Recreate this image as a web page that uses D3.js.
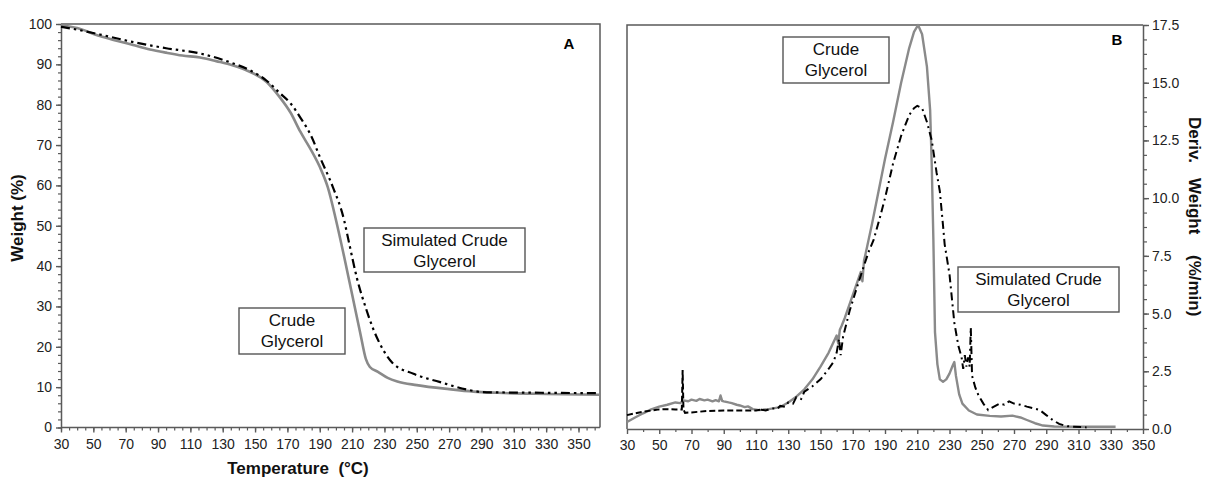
<!DOCTYPE html>
<html><head><meta charset="utf-8">
<script src="https://cdn.jsdelivr.net/npm/d3@7"></script>
<style>
html,body{margin:0;padding:0;background:#fff;}
svg{display:block;font-family:"Liberation Sans",Arial,sans-serif;}
</style></head>
<body>
<svg id="chart" width="1205" height="479"></svg>
<script>
// ---------- Panel A: TGA (Weight %) ----------
const crudeTgaTemp = [30,40,54,65,74.5,85,95,105,116,126,136,146,157,165,172,178,185,190,195,200,205,210,215,218.5,221,226,232,238,250,270,285,300,330,363];
const crudeTgaVal  = [99.7,99.0,97.0,95.8,94.8,93.7,92.9,92.2,91.7,90.8,89.8,88.3,85.7,82.0,78.0,73.3,68.5,64.6,59.5,51.5,42.5,33.0,23.5,17.0,15.0,13.8,12.3,11.4,10.5,9.5,8.9,8.6,8.3,8.1];
const simTgaTemp   = [30,40,54,75,95,116,136,147,157,165,172,178,185,190,198,205,208,213,219,223,227,235,248,264,281,290,300,330,363];
const simTgaVal    = [99.3,98.6,97.4,95.5,94.0,92.7,90.3,88.5,86.0,83.0,80.3,76.8,72.0,67.1,59.7,51.5,46.0,37.0,29.0,24.5,20.9,16.0,13.3,11.3,9.4,8.8,8.7,8.6,8.5];

// ---------- Panel B: DTG (Deriv. Weight %/min) ----------
const crudeDtgTemp = [30,35,40,45,50,55,60,63,65,68,70,73,75,78,80,83,85,87,88,89,90,93,95,98,100,103,105,108,112,118,125,130,135,140,145,150,155,160,161,162,163,165,170,175,176,177,178,182,186,190,195,200,205,208,210.5,213,216,218,219,220,221,222.5,224,226,228,230,232,233,234,236,238,242,247,255,262,269,274,278,283,288,295,310,333];
const crudeDtgVal  = [0.30,0.50,0.68,0.85,0.97,1.05,1.15,1.12,1.24,1.20,1.27,1.22,1.30,1.24,1.27,1.20,1.25,1.20,1.45,1.22,1.20,1.15,1.12,1.05,1.02,0.95,0.98,0.86,0.82,0.86,0.95,1.15,1.40,1.72,2.15,2.70,3.30,4.05,3.70,4.30,4.45,4.80,5.80,6.80,6.40,7.30,7.60,8.90,10.30,11.70,13.30,15.00,16.50,17.20,17.50,17.10,15.70,13.80,11.40,8.20,4.20,2.80,2.15,2.05,2.15,2.40,2.75,2.90,2.30,1.50,1.10,0.80,0.63,0.57,0.54,0.58,0.50,0.39,0.25,0.15,0.11,0.10,0.10];
const simDtgTemp   = [30,35,40,45,50,55,60,64,64.5,65,66,70,80,90,100,110,113,116,120,123,125,128,130,133,135,138,140,145,150,155,158,160,161.5,162.5,164,168,172,176.6,180,183,187,190,195,200,205,208,210,213,216,219,222,224,226,227,230,233,235.5,237.5,238.5,239.5,240.5,241.5,242.5,243.2,244,246,248,251,254,257,261,264,267,270,274,278,282,286,290,294,298,303,307,315];
const simDtgVal    = [0.60,0.68,0.75,0.80,0.85,0.86,0.85,0.85,2.55,0.85,0.70,0.72,0.78,0.80,0.80,0.80,0.84,0.80,0.90,0.86,1.00,0.96,1.15,1.10,1.38,1.30,1.62,1.85,2.15,2.60,2.90,3.30,3.90,3.20,4.00,5.10,6.00,7.00,7.70,8.20,9.20,10.0,11.5,12.7,13.6,13.9,14.0,13.9,13.3,12.5,11.1,10.3,8.80,8.00,6.70,4.60,3.60,3.10,2.60,3.20,2.70,3.10,2.70,4.40,2.30,1.80,1.45,1.10,0.82,0.95,1.10,1.05,1.20,1.10,1.05,0.97,0.90,0.82,0.60,0.39,0.22,0.12,0.10,0.07];

const xTicksA = d3.range(30, 351, 20);
const yTicksA = d3.range(0, 101, 10);
const xTicksB = d3.range(30, 351, 20);
const yTicksB = d3.range(0, 17.6, 2.5);

const svg = d3.select("#chart");
const AX = "#5a5a5a";
const GRAY = "#8a8a8a";

// ================= Panel A =================
const xA = d3.scaleLinear().domain([30, 363.3]).range([61, 600]);
const yA = d3.scaleLinear().domain([0, 100]).range([427.5, 24]);

const gA = svg.append("g");
gA.append("path").attr("d", `M${xA(30)},${yA(100)}H${xA(363.3)}V${yA(0)}`)
  .attr("fill","none").attr("stroke",AX).attr("stroke-width",1.5);

gA.append("g").attr("transform",`translate(0,${yA(0)})`)
  .call(d3.axisBottom(xA).tickValues(d3.range(30,361,5)).tickSize(3).tickFormat(""))
  .call(g=>{g.select(".domain").remove();g.selectAll("line").attr("stroke",AX).attr("stroke-width",1.2);});
gA.append("g").attr("transform",`translate(${xA(30)},0)`)
  .call(d3.axisLeft(yA).tickValues(d3.range(0,101,2)).tickSize(3).tickFormat(""))
  .call(g=>{g.select(".domain").remove();g.selectAll("line").attr("stroke",AX).attr("stroke-width",1.2);});
gA.append("g").attr("transform",`translate(0,${yA(0)})`)
  .call(d3.axisBottom(xA).tickValues(xTicksA).tickSize(5).tickPadding(7).tickSizeOuter(0))
  .call(g=>{g.select(".domain").attr("stroke",AX).attr("stroke-width",1.5).attr("d",`M${xA(30)},0H${xA(363.3)}`);
            g.selectAll("line").attr("stroke",AX).attr("stroke-width",1.4);
            g.selectAll("text").attr("fill","#222").style("font-size","14px");});
gA.append("g").attr("transform",`translate(${xA(30)},0)`)
  .call(d3.axisLeft(yA).tickValues(yTicksA).tickSize(5).tickPadding(4).tickSizeOuter(0))
  .call(g=>{g.select(".domain").attr("stroke",AX).attr("stroke-width",1.5);
            g.selectAll("line").attr("stroke",AX).attr("stroke-width",1.4);
            g.selectAll("text").attr("fill","#222").style("font-size","14px");});

const lineA = d3.line().curve(d3.curveMonotoneX);
gA.append("path")
  .attr("d", lineA(crudeTgaTemp.map((t,i)=>[xA(t), yA(crudeTgaVal[i])])))
  .attr("fill","none").attr("stroke",GRAY).attr("stroke-width",2.6);
gA.append("path")
  .attr("d", lineA(simTgaTemp.map((t,i)=>[xA(t), yA(simTgaVal[i])])))
  .attr("fill","none").attr("stroke","#000").attr("stroke-width",2.2)
  .attr("stroke-dasharray","9,4,2.5,4,2.5,4");

svg.append("text").attr("transform","translate(23,218) rotate(-90)")
  .attr("text-anchor","middle").attr("font-weight","bold").style("font-size","17px").attr("fill","#111")
  .text("Weight (%)");
svg.append("text").attr("x",298).attr("y",474).attr("text-anchor","middle")
  .attr("font-weight","bold").style("font-size","17px").attr("fill","#111")
  .attr("xml:space","preserve").style("white-space","pre")
  .text("Temperature  (°C)");
svg.append("text").attr("x",569).attr("y",49).attr("text-anchor","middle")
  .attr("font-weight","bold").style("font-size","15px").text("A");

function box(x0,y0,x1,y1,lines){
  svg.append("rect").attr("x",x0).attr("y",y0).attr("width",x1-x0).attr("height",y1-y0)
    .attr("fill","#fff").attr("stroke","#555").attr("stroke-width",1.4);
  lines.forEach((s,i)=>{
    svg.append("text").attr("x",(x0+x1)/2).attr("y",y0+18+i*21).attr("text-anchor","middle")
      .style("font-size","17px").attr("fill","#111").text(s);
  });
}
box(364,228,525,272,["Simulated Crude","Glycerol"]);
box(239,308,345,354,["Crude","Glycerol"]);

// ================= Panel B =================
const xB = d3.scaleLinear().domain([30, 350]).range([627, 1143]);
const yB = d3.scaleLinear().domain([0, 17.5]).range([429, 25]);

const gB = svg.append("g");
gB.append("path").attr("d", `M${xB(350)},${yB(17.5)}H${xB(30)}V${yB(0)}`)
  .attr("fill","none").attr("stroke",AX).attr("stroke-width",1.5);

gB.append("g").attr("transform",`translate(0,${yB(0)})`)
  .call(d3.axisBottom(xB).tickValues(d3.range(40,350,20)).tickSize(3).tickFormat(""))
  .call(g=>{g.select(".domain").remove();g.selectAll("line").attr("stroke",AX).attr("stroke-width",1.2);});
gB.append("g").attr("transform",`translate(${xB(350)},0)`)
  .call(d3.axisRight(yB).tickValues(d3.range(0,17.6,0.625)).tickSize(4).tickFormat(""))
  .call(g=>{g.select(".domain").remove();g.selectAll("line").attr("stroke",AX).attr("stroke-width",1.2);});
gB.append("g").attr("transform",`translate(0,${yB(0)})`)
  .call(d3.axisBottom(xB).tickValues(xTicksB).tickSize(5).tickPadding(6).tickSizeOuter(0))
  .call(g=>{g.select(".domain").attr("stroke",AX).attr("stroke-width",1.5);
            g.selectAll("line").attr("stroke",AX).attr("stroke-width",1.4);
            g.selectAll("text").attr("fill","#222").style("font-size","14px");});
gB.append("g").attr("transform",`translate(${xB(350)},0)`)
  .call(d3.axisRight(yB).tickValues(yTicksB).tickSize(6).tickPadding(3).tickSizeOuter(0).tickFormat(d3.format(".1f")))
  .call(g=>{g.select(".domain").attr("stroke",AX).attr("stroke-width",1.5);
            g.selectAll("line").attr("stroke",AX).attr("stroke-width",1.4);
            g.selectAll("text").attr("fill","#222").style("font-size","14px");});

const lineB = d3.line();
gB.append("path")
  .attr("d", lineB(crudeDtgTemp.map((t,i)=>[xB(t), yB(crudeDtgVal[i])])))
  .attr("fill","none").attr("stroke",GRAY).attr("stroke-width",2.4).attr("stroke-linejoin","round");
const simPts = simDtgTemp.map((t,i)=>[t, simDtgVal[i]]);
gB.append("path")
  .attr("d", lineB(simPts.filter(p=>p[0]<=113).map(p=>[xB(p[0]), yB(p[1])])))
  .attr("fill","none").attr("stroke","#000").attr("stroke-width",2).attr("stroke-dasharray","6,3");
gB.append("path")
  .attr("d", lineB(simPts.filter(p=>p[0]>=113).map(p=>[xB(p[0]), yB(p[1])])))
  .attr("fill","none").attr("stroke","#000").attr("stroke-width",2).attr("stroke-dasharray","8,4,2,4");

svg.append("text").attr("x",1117).attr("y",45).attr("text-anchor","middle")
  .attr("font-weight","bold").style("font-size","15px").text("B");

const rl = svg.append("text").attr("transform","translate(1189,117) rotate(90)")
  .attr("font-weight","bold").style("font-size","17px").attr("fill","#111");
rl.append("tspan").attr("x",0).text("Deriv.");
rl.append("tspan").attr("x",61).text("Weight");
rl.append("tspan").attr("x",138).text("(%/min)");

box(783,37,889,83,["Crude","Glycerol"]);
box(958,267,1119,312,["Simulated Crude","Glycerol"]);
</script>
</body></html>
